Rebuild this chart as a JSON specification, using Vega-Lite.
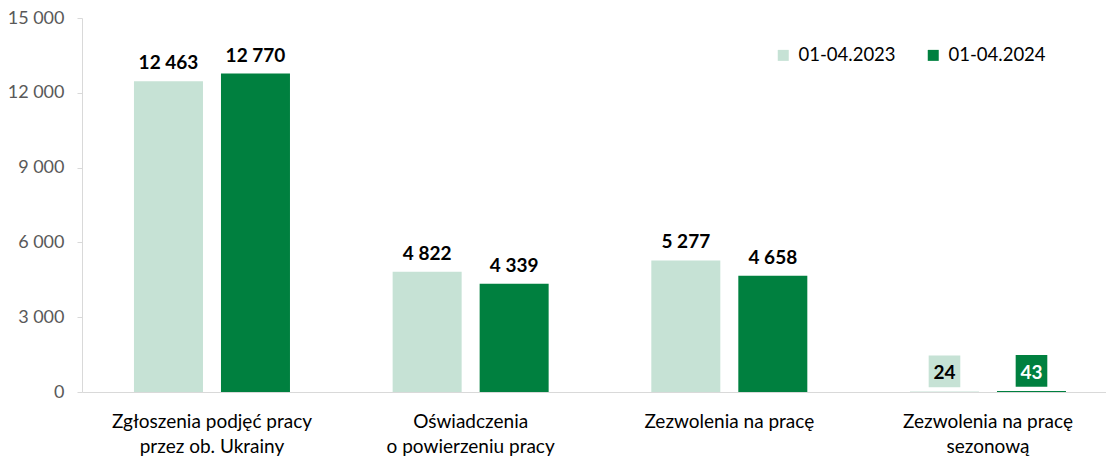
{
  "$schema": "https://vega.github.io/schema/vega-lite/v6.json",
  "width": 1024,
  "height": 374,
  "autosize": {"type": "none"},
  "padding": {"left": 82, "top": 18, "right": 0, "bottom": 65},
  "background": "white",
  "data": {
    "values": [
      {"cat": "Zgłoszenia podjęć pracy|przez ob. Ukrainy", "year": "01-04.2023", "value": 12463},
      {"cat": "Zgłoszenia podjęć pracy|przez ob. Ukrainy", "year": "01-04.2024", "value": 12770},
      {"cat": "Oświadczenia|o powierzeniu pracy", "year": "01-04.2023", "value": 4822},
      {"cat": "Oświadczenia|o powierzeniu pracy", "year": "01-04.2024", "value": 4339},
      {"cat": "Zezwolenia na pracę", "year": "01-04.2023", "value": 5277},
      {"cat": "Zezwolenia na pracę", "year": "01-04.2024", "value": 4658},
      {"cat": "Zezwolenia na pracę|sezonową", "year": "01-04.2023", "value": 24},
      {"cat": "Zezwolenia na pracę|sezonową", "year": "01-04.2024", "value": 43}
    ]
  },
  "encoding": {
    "x": {
      "field": "cat", "type": "nominal",
      "sort": ["Zgłoszenia podjęć pracy|przez ob. Ukrainy", "Oświadczenia|o powierzeniu pracy", "Zezwolenia na pracę", "Zezwolenia na pracę|sezonową"],
      "scale": {"paddingInner": 0.3969, "paddingOuter": 0.1778, "align": 0.565},
      "axis": {
        "title": null, "labelAngle": 0, "ticks": false, "domainColor": "#d9d9d9", "domainWidth": 1,
        "labelColor": "#000000", "labelFont": "Lato", "labelFontSize": 19, "labelPadding": 20,
        "labelLineHeight": 25, "labelLimit": 0, "labelOverlap": false, "labelExpr": "split(datum.value, '|')"
      }
    },
    "xOffset": {"field": "year", "type": "nominal", "scale": {"paddingInner": 0.2069, "paddingOuter": 0}},
    "y": {
      "field": "value", "type": "quantitative",
      "scale": {"domain": [0, 15000], "nice": false},
      "axis": {
        "title": null, "grid": false, "values": [0, 3000, 6000, 9000, 12000, 15000],
        "domainColor": "#d9d9d9", "tickColor": "#d9d9d9", "tickSize": 5,
        "labelColor": "#595959", "labelFont": "Lato", "labelFontSize": 18, "labelPadding": 13,
        "labelExpr": "replace(format(datum.value, ','), ',', ' ')"
      }
    }
  },
  "layer": [
    {
      "mark": {"type": "bar"},
      "encoding": {
        "color": {
          "field": "year", "type": "nominal",
          "scale": {"domain": ["01-04.2023", "01-04.2024"], "range": ["#c6e2d5", "#00803f"]},
          "legend": {
            "title": null, "orient": "none", "direction": "horizontal", "legendX": 692, "legendY": 28,
            "symbolType": "square", "symbolSize": 121, "symbolStrokeWidth": 0, "labelFont": "Lato",
            "labelFontSize": 18.5, "labelColor": "#000000", "labelOffset": 6, "columnPadding": 28
          }
        }
      }
    },
    {
      "transform": [{"filter": "datum.value < 100"}],
      "mark": {"type": "square", "size": 1000, "opacity": 1, "yOffset": -20},
      "encoding": {
        "color": {"field": "year", "type": "nominal", "legend": null}
      }
    },
    {
      "mark": {"type": "text", "font": "Lato", "fontSize": 19, "fontWeight": "bold", "baseline": "alphabetic", "dy": -12},
      "encoding": {
        "text": {"field": "value", "type": "quantitative", "format": ",d"},
        "color": {
          "condition": {"test": "datum.value < 100 && datum.year == '01-04.2024'", "value": "#ffffff"},
          "value": "#000000"
        }
      }
    }
  ],
  "config": {
    "view": {"stroke": null},
    "locale": {"number": {"decimal": ",", "thousands": " ", "grouping": [3], "currency": ["", " zł"]}}
  }
}
